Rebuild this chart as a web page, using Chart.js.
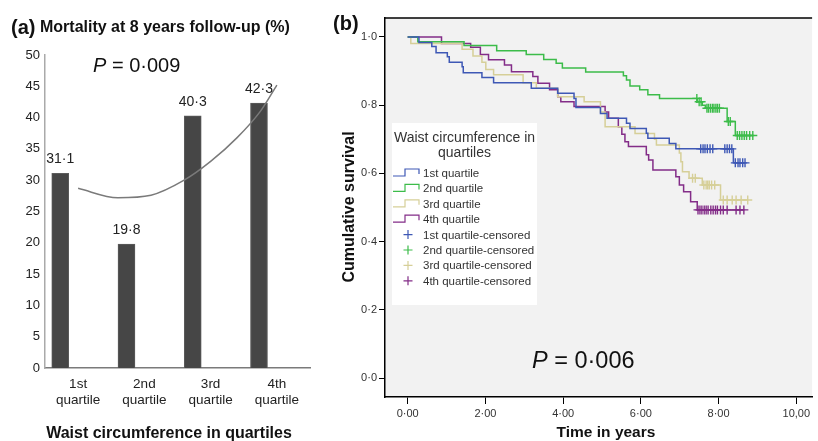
<!DOCTYPE html>
<html><head><meta charset="utf-8">
<script src="https://cdn.jsdelivr.net/npm/chart.js@4.4.1/dist/chart.umd.min.js"></script>
<style>
html,body{margin:0;padding:0;background:#fff;}
body{width:818px;height:441px;position:relative;overflow:hidden;font-family:"Liberation Sans",Arial,sans-serif;color:#111;}
canvas{position:absolute;top:0;}
.t{position:absolute;white-space:nowrap;}
#legend{position:absolute;left:392px;top:123px;width:145px;height:182px;background:#fff;color:#333;}
#legend .lt{position:absolute;left:0;width:145px;text-align:center;font-size:14px;line-height:16px;}
#legend .li{position:absolute;left:31px;font-size:11.5px;line-height:14px;white-space:nowrap;}
#legend svg{position:absolute;left:0;top:0;}
</style></head><body>
<canvas id="ca" width="330" height="441" style="left:0"></canvas>
<canvas id="cb" width="488" height="441" style="left:330px"></canvas>
<div class="t" style="left:11px;top:17px;font-size:20px;line-height:20px;font-weight:bold">(a)</div>
<div class="t" style="left:40px;top:19px;font-size:16px;line-height:16px;font-weight:bold">Mortality at 8 years follow-up (%)</div>
<div class="t" style="left:93px;top:55px;font-size:20px;line-height:20px"><i>P</i> = 0·009</div>
<div class="t" style="left:169px;top:425px;font-size:16px;line-height:16px;font-weight:bold;transform:translateX(-50%)">Waist circumference in quartiles</div>
<div class="t" style="left:333px;top:13px;font-size:20px;line-height:20px;font-weight:bold">(b)</div>
<div class="t" style="left:349px;top:207px;font-size:16px;line-height:16px;font-weight:bold;transform:translate(-50%,-50%) rotate(-90deg)">Cumulative survival</div>
<div class="t" style="left:606px;top:424px;font-size:15.5px;line-height:16px;font-weight:bold;transform:translateX(-50%)">Time in years</div>
<div class="t" style="left:532px;top:348px;font-size:23.5px;line-height:24px"><i>P</i> = 0·006</div>
<div id="legend"></div>
<script>
// ---------- Panel (a) data ----------
const catLabels = [['1st','quartile'],['2nd','quartile'],['3rd','quartile'],['4th','quartile']];
const mortality = [31.1, 19.8, 40.3, 42.3];
const yTicksA = [0,5,10,15,20,25,30,35,40,45,50];
// trend curve (x in category positions 0..3)
const trendX = [0, 0.6, 1.1, 1.6, 2.0, 2.4, 2.75, 3.0];
const trendY = [28.7, 27.2, 27.6, 30.0, 33.0, 36.8, 41.0, 45.2];

// ---------- Panel (b) data ----------
const seriesNames = ['1st quartile','2nd quartile','3rd quartile','4th quartile'];
const seriesColors = ['#3e58b5','#3cbc4a','#d6cf98','#832d88'];
const q1Times = [0,0.29,0.62,0.73,1.02,1.07,1.40,1.43,1.91,2.21,3.18,3.86,4.28,4.33,4.96,5.13,5.63,5.72,6.14,6.18,6.73,6.90,8.38];
const q1Surv  = [1.0,.984,.972,.954,.942,.926,.913,.895,.881,.866,.85,.835,.82,.793,.776,.762,.747,.732,.718,.703,.688,.672,.631];
const q1Cens  = [7.54,7.60,7.65,7.71,7.78,7.85,8.16,8.22,8.28,8.34,8.43,8.50,8.55,8.62,8.68];
const q2Times = [0,0.26,1.45,2.29,3.05,3.5,3.82,3.98,4.58,5.55,5.63,5.72,5.97,6.18,6.48,7.45,7.58,7.66,8.22,8.43];
const q2Surv  = [1.0,.986,.975,.96,.949,.934,.923,.909,.897,.886,.874,.856,.845,.831,.82,.81,.80,.791,.752,.711];
const q2Cens  = [7.44,7.50,7.55,7.70,7.74,7.79,7.84,7.88,7.93,7.97,8.02,8.25,8.30,8.48,8.54,8.60,8.66,8.72,8.80,8.88];
const q3Times = [0,0.08,1.40,1.68,1.91,2.01,2.21,2.97,3.31,3.86,4.54,4.96,5.08,5.85,6.35,6.40,6.99,7.03,7.07,7.24,7.58,8.05];
const q3Surv  = [1.0,.981,.964,.944,.926,.905,.889,.866,.85,.825,.81,.78,.737,.717,.70,.683,.66,.634,.605,.586,.566,.522];
const q3Cens  = [7.33,7.40,7.62,7.68,7.72,7.76,7.82,7.90,8.12,8.22,8.35,8.45,8.58,8.75];
const q4Times = [0,0.87,1.62,1.87,2.08,2.49,2.67,3.22,3.35,3.65,3.86,3.94,4.28,5.08,5.17,5.42,5.51,5.59,5.68,6.14,6.20,6.31,6.90,6.99,7.10,7.28,7.45];
const q4Surv  = [1.0,.981,.97,.949,.933,.918,.898,.884,.864,.845,.825,.81,.796,.78,.762,.737,.715,.693,.679,.655,.639,.61,.59,.566,.546,.517,.493];
const q4Cens  = [7.47,7.52,7.57,7.63,7.68,7.73,7.80,7.86,7.92,7.97,8.05,8.12,8.22,8.45,8.55,8.65];
const xTicksB = [0,2,4,6,8,10];
const xTickLabelsB = ['0·00','2·00','4·00','6·00','8·00','10,00'];
const yTicksB = [0,0.2,0.4,0.6,0.8,1.0];
const yTickLabelsB = ['0·0','0·2','0·4','0·6','0·8','1·0'];

const FONT = '"Liberation Sans", Arial, sans-serif';
Chart.defaults.font.family = FONT;
Chart.defaults.animation = false;

// ---------- Panel (a) chart ----------
const BAR_SHIFT = 0.27; // bars sit in the left part of each category slot (style)
const barLabelPlugin = {
  id:'barLabels',
  afterDatasetsDraw(chart){
    const ctx = chart.ctx; const meta = chart.getDatasetMeta(0);
    ctx.save(); ctx.font = '14px ' + FONT; ctx.fillStyle = '#222';
    ctx.textAlign = 'center'; ctx.textBaseline = 'middle';
    meta.data.forEach((bar,i)=>{ ctx.fillText(mortality[i].toFixed(1).replace('.','·'), bar.x, bar.y - 14); });
    ctx.restore();
  }
};
new Chart(document.getElementById('ca'), {
  type:'bar',
  data:{ labels: catLabels, datasets:[
    {type:'bar', data: mortality.map((v,i)=>({x:i - BAR_SHIFT, y:v})), backgroundColor:'#464646', borderColor:'#5c5c5c',
     borderWidth:1, barThickness:17, grouped:false, xAxisID:'x2', order:2},
    {type:'line', data: trendX.map((x,i)=>({x:x, y:trendY[i]})), xAxisID:'x2', borderColor:'#7a7a7a',
     borderWidth:1.5, pointRadius:0, cubicInterpolationMode:'monotone', order:1}
  ]},
  options:{ responsive:false, layout:{padding:{left:0,right:20,top:55,bottom:0}},
    plugins:{legend:{display:false}, tooltip:{enabled:false}},
    scales:{
      x:{type:'category', offset:true, grid:{display:false, drawTicks:false}, border:{display:true,color:'#7a7a7a',width:1.5},
         ticks:{font:{size:13.5}, color:'#222', padding:8, maxRotation:0, autoSkip:false},
         afterFit:(s)=>{ s.height = 73; }},
      x2:{type:'linear', display:false, offset:false, min:-0.5, max:3.5, grid:{offset:false}},
      y:{min:0, max:50, grid:{display:false, drawTicks:false}, border:{display:true,color:'#aaaaaa',width:1.5},
         ticks:{font:{size:13}, color:'#222', padding:5},
         afterBuildTicks:(s)=>{ s.ticks = yTicksA.map(v=>({value:v})); },
         afterFit:(s)=>{ s.width = 45; }}
    }
  },
  plugins:[barLabelPlugin]
});

// ---------- Panel (b) chart ----------
function survAt(times, surv, t){ let v = surv[0]; for(let i=0;i<times.length;i++){ if(times[i] <= t) v = surv[i]; } return v; }
const groups = [[q1Times,q1Surv,q1Cens],[q2Times,q2Surv,q2Cens],[q3Times,q3Surv,q3Cens],[q4Times,q4Surv,q4Cens]];
const dsB = [];
groups.forEach((g,k)=>{
  const [T,S,C] = g;
  const pts = T.map((t,i)=>({x:t, y:S[i]}));
  const tEnd = Math.max(C[C.length-1], T[T.length-1]);
  pts.push({x:tEnd, y:S[S.length-1]});
  dsB.push({type:'line', label:seriesNames[k], data:pts, stepped:'before', borderColor:seriesColors[k],
            borderWidth:1.5, pointRadius:0, fill:false});
});
groups.forEach((g,k)=>{
  const [T,S,C] = g;
  dsB.push({type:'scatter', label:seriesNames[k]+'-censored', data:C.map(t=>({x:t, y:survAt(T,S,t)})),
            pointStyle:'cross', pointRadius:4.5, pointBorderWidth:1.4, borderColor:seriesColors[k],
            backgroundColor:seriesColors[k], showLine:false});
});
const frameB = {
  id:'frameB',
  beforeDraw(chart){ const {ctx, chartArea:a} = chart; ctx.save(); ctx.fillStyle='#f2f2f2';
    ctx.fillRect(a.left, a.top, a.right-a.left, a.bottom-a.top); ctx.restore(); },
  afterDraw(chart){ const {ctx, chartArea:a} = chart; ctx.save(); ctx.strokeStyle='#000'; ctx.lineWidth=1.5;
    ctx.beginPath(); ctx.moveTo(a.left, a.top); ctx.lineTo(a.right, a.top); ctx.stroke(); ctx.restore(); }
};
new Chart(document.getElementById('cb'), {
  type:'scatter',
  data:{datasets: dsB},
  options:{ responsive:false, layout:{padding:{left:0,right:0,top:18,bottom:0}},
    plugins:{legend:{display:false}, tooltip:{enabled:false}},
    scales:{
      x:{type:'linear', min:-0.584, max:10.406,
         grid:{display:true, drawOnChartArea:false, drawTicks:true, tickLength:7, color:'#000'},
         border:{display:true, color:'#000', width:1.5},
         ticks:{font:{size:11}, color:'#333', padding:3, maxRotation:0,
                callback:(v)=>{ const i = xTicksB.indexOf(v); return i>=0 ? xTickLabelsB[i] : ''; }},
         afterBuildTicks:(s)=>{ s.ticks = xTicksB.map(v=>({value:v})); },
         afterFit:(s)=>{ s.height = 44; }},
      y:{type:'linear', min:-0.0557, max:1.0557,
         grid:{display:true, drawOnChartArea:false, drawTicks:true, tickLength:6, color:'#000'},
         border:{display:true, color:'#000', width:1.5},
         ticks:{font:{size:11}, color:'#333', padding:2,
                callback:(v)=>{ const i = yTicksB.indexOf(v); return i>=0 ? yTickLabelsB[i] : ''; }},
         afterBuildTicks:(s)=>{ s.ticks = yTicksB.map(v=>({value:v})); },
         afterFit:(s)=>{ s.width = 55; }}
    }
  },
  plugins:[frameB]
});

// ---------- Legend (b) ----------
(function(){
  const lg = document.getElementById('legend');
  const ns = 'http://www.w3.org/2000/svg';
  const svg = document.createElementNS(ns,'svg'); svg.setAttribute('width','145'); svg.setAttribute('height','182');
  lg.appendChild(svg);
  const t1 = document.createElement('div'); t1.className='lt'; t1.style.top='6px'; t1.textContent='Waist circumference in'; lg.appendChild(t1);
  const t2 = document.createElement('div'); t2.className='lt'; t2.style.top='21px'; t2.textContent='quartiles'; lg.appendChild(t2);
  const rowY = k => 50 + k*15.4;
  seriesNames.forEach((n,k)=>{
    const y = rowY(k);
    const p = document.createElementNS(ns,'polyline');
    p.setAttribute('points', `1,${y+3} 13,${y+3} 13,${y-4} 27,${y-4} 27,${y+1}`);
    p.setAttribute('fill','none'); p.setAttribute('stroke', seriesColors[k]); p.setAttribute('stroke-width','1.2');
    svg.appendChild(p);
    const d = document.createElement('div'); d.className='li'; d.style.top=(y-7)+'px'; d.textContent=n; lg.appendChild(d);
  });
  seriesNames.forEach((n,k)=>{
    const y = rowY(k+4);
    const p = document.createElementNS(ns,'path');
    p.setAttribute('d', `M11.5,${y} H20.5 M16,${y-4.5} V${y+4.5}`);
    p.setAttribute('stroke', seriesColors[k]); p.setAttribute('stroke-width','1.2');
    svg.appendChild(p);
    const d = document.createElement('div'); d.className='li'; d.style.top=(y-7)+'px'; d.textContent=n+'-censored'; lg.appendChild(d);
  });
})();
</script>
</body></html>
